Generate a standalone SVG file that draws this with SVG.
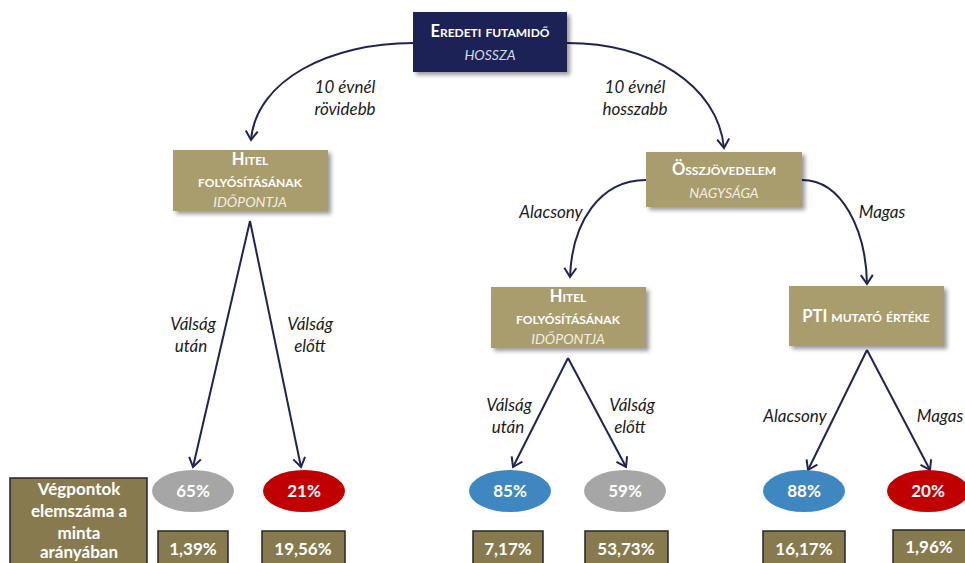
<svg xmlns="http://www.w3.org/2000/svg" width="965" height="563" viewBox="0 0 965 563">
<defs>
<filter id="sh" x="-10%" y="-10%" width="130%" height="140%">
<feDropShadow dx="3" dy="3" stdDeviation="2" flood-color="#000" flood-opacity="0.4"/>
</filter>
<marker id="ah" markerUnits="userSpaceOnUse" markerWidth="20" markerHeight="20" refX="0" refY="0" viewBox="-12 -10 14 20" orient="auto">
<path d="M-9,-6 L0,0 L-9,6" fill="none" stroke="#1f2454" stroke-width="2"/>
</marker>
<style>
text{font-family:Lato,"Open Sans","Liberation Sans",sans-serif}
.nav{fill:#1f2454}
.tan{fill:#a99c6d}
.hd{fill:#fff;font-weight:bold;font-size:16.5px;font-variant:small-caps;text-anchor:middle}
.it{fill:#f2eee0;font-style:italic;font-size:14px;text-anchor:middle}
.lb{fill:#1a1a1a;font-style:italic;font-size:17px;text-anchor:middle}
.pc{fill:#fff;font-weight:bold;font-size:17px;text-anchor:middle}
.bx{fill:#877a4f;stroke:#262626;stroke-width:1.5}
.cn{fill:none;stroke:#1f2454;stroke-width:2;marker-end:url(#ah)}
</style>
</defs>
<rect width="965" height="563" fill="#fff"/>

<g id="connectors">
<path class="cn" d="M413,43 C330,43 256,80 251,140"/>
<path class="cn" d="M567,43 C650,43 718,85 724,148"/>
<path class="cn" d="M250,221 L193,467"/>
<path class="cn" d="M250,221 L301,467"/>
<path class="cn" d="M646,180 C600,180 572,222 570,277"/>
<path class="cn" d="M802,180 C842,180 866,230 867,284"/>
<path class="cn" d="M568,358 L513,467"/>
<path class="cn" d="M568,358 L626,467"/>
<path class="cn" d="M867,350 L808,470"/>
<path class="cn" d="M867,350 L930,470"/>
</g>

<g id="labels">
<text class="lb" x="345" y="93">10 évnél</text>
<text class="lb" x="345" y="115">rövidebb</text>
<text class="lb" x="635" y="93">10 évnél</text>
<text class="lb" x="635" y="115">hosszabb</text>
<text class="lb" x="193" y="330">Válság</text>
<text class="lb" x="191" y="352">után</text>
<text class="lb" x="310" y="330">Válság</text>
<text class="lb" x="310" y="352">előtt</text>
<text class="lb" x="551" y="218">Alacsony</text>
<text class="lb" x="882" y="218">Magas</text>
<text class="lb" x="509" y="411">Válság</text>
<text class="lb" x="508" y="433">után</text>
<text class="lb" x="632" y="411">Válság</text>
<text class="lb" x="630" y="433">előtt</text>
<text class="lb" x="795" y="422">Alacsony</text>
<text class="lb" x="940" y="422">Magas</text>
</g>

<g id="root">
<rect class="nav" x="413" y="12" width="154" height="60" filter="url(#sh)"/>
<text class="hd" x="490" y="37">Eredeti futamidő</text>
<text class="it" x="490" y="60" style="fill:#d8d9e6">HOSSZA</text>
</g>

<g id="hitel1">
<rect class="tan" x="173" y="150" width="155" height="61" filter="url(#sh)"/>
<text class="hd" x="250" y="165">Hitel</text>
<text class="hd" x="250" y="187">folyósításának</text>
<text class="it" x="250" y="207">IDŐPONTJA</text>
</g>

<g id="osszjov">
<rect class="tan" x="646" y="152" width="156" height="55" filter="url(#sh)"/>
<text class="hd" x="724" y="175">Összjövedelem</text>
<text class="it" x="724" y="198">NAGYSÁGA</text>
</g>

<g id="hitel2">
<rect class="tan" x="491" y="287" width="155" height="61" filter="url(#sh)"/>
<text class="hd" x="568" y="302">Hitel</text>
<text class="hd" x="568" y="324">folyósításának</text>
<text class="it" x="568" y="344">IDŐPONTJA</text>
</g>

<g id="pti">
<rect class="tan" x="789" y="286" width="155" height="60" filter="url(#sh)"/>
<text class="hd" x="866" y="322">PTI mutató értéke</text>
</g>

<g id="leaf1"><ellipse cx="193" cy="491" rx="41" ry="21" fill="#a6a6a6"/><text class="pc" x="193" y="497">65%</text></g>
<g id="leaf2"><ellipse cx="304" cy="491" rx="41" ry="21" fill="#c00000"/><text class="pc" x="304" y="497">21%</text></g>
<g id="leaf3"><ellipse cx="510" cy="491" rx="41" ry="21" fill="#3f87c0"/><text class="pc" x="510" y="497">85%</text></g>
<g id="leaf4"><ellipse cx="625" cy="491" rx="41" ry="21" fill="#a6a6a6"/><text class="pc" x="625" y="497">59%</text></g>
<g id="leaf5"><ellipse cx="804" cy="491" rx="41" ry="21" fill="#3f87c0"/><text class="pc" x="804" y="497">88%</text></g>
<g id="leaf6"><ellipse cx="928" cy="491" rx="41" ry="21" fill="#c00000"/><text class="pc" x="928" y="497">20%</text></g>

<g id="legend">
<rect class="bx" x="10" y="478" width="137" height="90"/>
<text class="pc" x="79" y="495">Végpontok</text>
<text class="pc" x="79" y="517">elemszáma a</text>
<text class="pc" x="79" y="539">minta</text>
<text class="pc" x="79" y="558">arányában</text>
</g>

<g id="share1"><rect class="bx" x="158" y="531" width="70" height="40"/><text class="pc" x="193" y="555">1,39%</text></g>
<g id="share2"><rect class="bx" x="262" y="531" width="83" height="40"/><text class="pc" x="303" y="555">19,56%</text></g>
<g id="share3"><rect class="bx" x="473" y="531" width="70" height="40"/><text class="pc" x="508" y="555">7,17%</text></g>
<g id="share4"><rect class="bx" x="585" y="531" width="83" height="40"/><text class="pc" x="626" y="555">53,73%</text></g>
<g id="share5"><rect class="bx" x="763" y="531" width="82" height="40"/><text class="pc" x="804" y="555">16,17%</text></g>
<g id="share6"><rect class="bx" x="893" y="530" width="75" height="40"/><text class="pc" x="929" y="553">1,96%</text></g>
</svg>
